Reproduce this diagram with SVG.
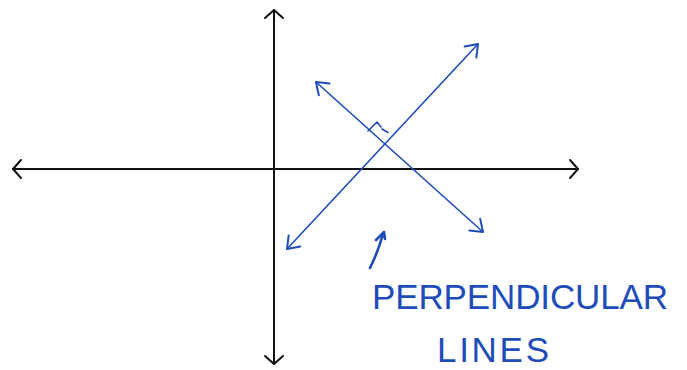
<svg xmlns="http://www.w3.org/2000/svg" width="687" height="370" viewBox="0 0 687 370">
<style>
.axis{stroke:#111;stroke-width:2;fill:none;stroke-linecap:round;stroke-linejoin:round}
.blue{stroke:#1e4cb8;stroke-width:1.6;fill:none;stroke-linecap:round;stroke-linejoin:round}
.pen{stroke:#1e4cb8;stroke-width:2.6;fill:none;stroke-linecap:round;stroke-linejoin:round}
.label{font-family:"Liberation Sans",Arial,sans-serif;font-size:35px;fill:#1e4cb8}
</style>
<defs>
<marker id="arrK" markerUnits="userSpaceOnUse" viewBox="-12 -12 14 24" refX="0" refY="0" markerWidth="14" markerHeight="24" orient="auto-start-reverse" overflow="visible">
<path d="M-8,-9 L0,0 L-8,9" stroke="#111" stroke-width="2" fill="none" stroke-linecap="round" stroke-linejoin="round"/>
</marker>
<marker id="arrB" markerUnits="userSpaceOnUse" viewBox="-14 -12 16 24" refX="0" refY="0" markerWidth="16" markerHeight="24" orient="auto-start-reverse" overflow="visible">
<path d="M-11,-8 L0,0 L-11,8" stroke="#1e4cb8" stroke-width="2" fill="none" stroke-linecap="round" stroke-linejoin="round"/>
</marker>
</defs>
<rect width="687" height="370" fill="#fff"/>
<g id="connectors">
<g id="x-axis"><line class="axis" x1="13" y1="169" x2="578" y2="169" marker-start="url(#arrK)" marker-end="url(#arrK)"/></g>
<g id="y-axis"><line class="axis" x1="274" y1="10" x2="274" y2="364" marker-start="url(#arrK)" marker-end="url(#arrK)"/></g>
<g id="line-a"><line class="blue" x1="287" y1="249" x2="478" y2="44" marker-start="url(#arrB)" marker-end="url(#arrB)"/></g>
<g id="line-b"><line class="blue" x1="316" y1="82" x2="483" y2="232" marker-start="url(#arrB)" marker-end="url(#arrB)"/></g>
<g id="right-angle"><path class="blue" d="M368,131 L377,122 L381,127 M382,129 L388,132.5"/></g>
<g id="pointer"><path class="pen" d="M370,268 Q378,252 383,234 M376,240 L384,232 L385,239"/></g>
</g>
<g id="label">
<text class="label" x="372" y="309" textLength="296" lengthAdjust="spacing">PERPENDICULAR</text>
<text class="label" x="437" y="362" font-size="33" textLength="112" lengthAdjust="spacing">LINES</text>
</g>
</svg>
